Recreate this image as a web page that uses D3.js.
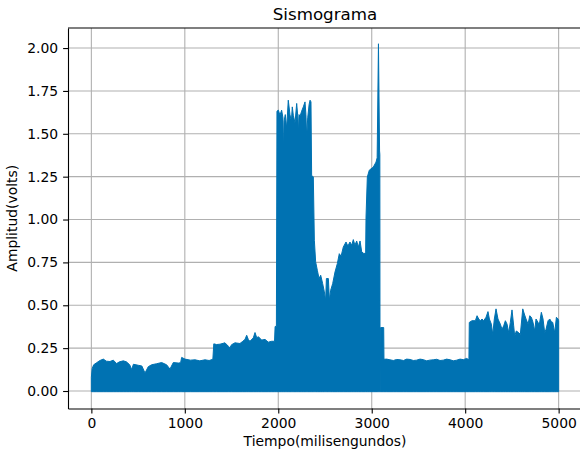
<!DOCTYPE html>
<html>
<head>
<meta charset="utf-8">
<script src="https://cdn.jsdelivr.net/npm/d3@7"></script>
<style>
  body { margin: 0; background: #fff; }
  svg { display: block; font-family: "DejaVu Sans", sans-serif; }
  .grid line { stroke: #b0b0b0; stroke-width: 1.1; }
  .axis path, .axis line { stroke: #000; stroke-width: 1.1; }
  .axis text { font-size: 13.9px; fill: #000; font-family: "DejaVu Sans", sans-serif; }
</style>
</head>
<body>
<script>
var tiempo = [
  0, 8, 25, 56, 92, 128, 160, 199, 235, 270, 300, 342, 375, 410, 431, 450, 502, 540, 574, 609,
  645, 698, 752, 805, 841, 877, 930, 955, 966, 1002, 1060, 1109, 1160, 1216, 1260, 1300,
  1310, 1340, 1376, 1430, 1466, 1483, 1500, 1537, 1590, 1620, 1644, 1662, 1680, 1697, 1733, 1751,
  1770, 1787, 1822, 1858, 1893, 1929, 1960, 1966, 1980,
  1986, 2001, 2018, 2036, 2050, 2056, 2062, 2075, 2090, 2107, 2125, 2140, 2150, 2161, 2179, 2197,
  2210, 2215, 2222, 2233, 2250, 2268, 2286, 2296, 2304, 2315, 2330, 2340, 2350, 2357, 2375, 2386,
  2400, 2418, 2436, 2454, 2475, 2493, 2507, 2515, 2536, 2547, 2561, 2582, 2607, 2632, 2653, 2672,
  2696, 2725, 2745, 2767, 2786, 2803, 2820, 2839, 2857, 2875, 2893, 2917, 2935, 2939, 2953, 2974,
  3017, 3046, 3058, 3072, 3084, 3087, 3089, 3093, 3095, 3128, 3131,
  3160, 3195, 3231, 3267, 3303, 3340, 3374, 3410, 3445, 3480, 3517, 3550, 3588, 3620, 3659, 3695,
  3731, 3765, 3802, 3840, 3873, 3910, 3945, 3980, 4016, 4040,
  4044, 4073, 4109, 4127, 4145, 4162, 4180, 4198, 4223, 4244, 4259, 4280, 4295, 4312, 4330, 4351,
  4376, 4394, 4412, 4430, 4448, 4466, 4483, 4501, 4519, 4530, 4547, 4573, 4590, 4616, 4633, 4651,
  4673, 4691, 4708, 4726, 4744, 4758, 4780, 4794, 4815, 4833, 4851, 4865, 4887, 4905, 4922, 4937,
  4958, 4976, 4994, 5000
];
var amplitudMax = [
  0.08, 0.13, 0.153, 0.165, 0.178, 0.186, 0.174, 0.172, 0.18, 0.16, 0.17, 0.176, 0.17, 0.153, 0.125, 0.156, 0.15, 0.146, 0.105, 0.142,
  0.153, 0.159, 0.166, 0.153, 0.128, 0.166, 0.163, 0.165, 0.196, 0.186, 0.18, 0.182, 0.176, 0.182, 0.178, 0.185,
  0.275, 0.271, 0.273, 0.281, 0.261, 0.252, 0.27, 0.281, 0.277, 0.29, 0.301, 0.325, 0.3, 0.29, 0.31, 0.341,
  0.31, 0.317, 0.297, 0.301, 0.285, 0.29, 0.29, 0.376, 0.378,
  1.632, 1.638, 1.608, 1.638, 1.593, 1.405, 1.573, 1.612, 1.533, 1.696, 1.612, 1.573, 1.657, 1.608, 1.563, 1.677,
  1.593, 1.501, 1.612, 1.602, 1.632, 1.657, 1.686, 1.612, 1.481, 1.593, 1.671, 1.696, 1.686, 1.258, 1.248, 0.879,
  0.753, 0.704, 0.656, 0.675, 0.626, 0.578, 0.529, 0.656, 0.656, 0.529, 0.588, 0.626, 0.694, 0.743, 0.801, 0.786,
  0.840, 0.869, 0.845, 0.869, 0.850, 0.883, 0.850, 0.875, 0.840, 0.875, 0.811, 0.801, 0.806, 1.015, 1.248, 1.288,
  1.306, 1.335, 1.36, 2.025, 1.40, 1.38, 0.0, 0.0, 0.37, 0.37, 0.185,
  0.186, 0.182, 0.178, 0.184, 0.182, 0.178, 0.186, 0.184, 0.178, 0.18, 0.186, 0.183, 0.176, 0.18, 0.182, 0.185,
  0.178, 0.18, 0.186, 0.182, 0.176, 0.18, 0.186, 0.183, 0.19, 0.182,
  0.40, 0.41, 0.41, 0.439, 0.42, 0.41, 0.42, 0.41, 0.43, 0.463, 0.42, 0.39, 0.33, 0.42, 0.479, 0.42,
  0.39, 0.36, 0.38, 0.41, 0.39, 0.34, 0.40, 0.473, 0.38, 0.32, 0.35, 0.34, 0.33, 0.479, 0.449, 0.42,
  0.39, 0.439, 0.43, 0.40, 0.35, 0.42, 0.40, 0.39, 0.459, 0.42, 0.34, 0.36, 0.41, 0.42, 0.404, 0.40,
  0.34, 0.43, 0.42, 0.41
];
var pisoSenal = -0.004;   // la senal baja casi hasta cero en todo momento

var ticksX = [0, 1000, 2000, 3000, 4000, 5000];
var ticksY = [0, 0.25, 0.5, 0.75, 1.0, 1.25, 1.5, 1.75, 2.0];

var width = 580,
    height = 454;

// limites del area de ejes (el borde derecho queda fuera del lienzo, como en la imagen)
var izq = 68, der = 582, arriba = 28, abajo = 408.5;

var x = d3.scaleLinear().domain([-250, 5250]).range([izq, der]);
var y = d3.scaleLinear().domain([-0.102, 2.117]).range([abajo, arriba]);

var svg = d3.select("body")
    .append("svg")
    .attr("width", width)
    .attr("height", height);

// rejilla por debajo de la senal
var grid = svg.append("g").attr("class", "grid");
grid.selectAll(".gx")
    .data(ticksX)
    .enter().append("line")
    .attr("x1", d => x(d)).attr("x2", d => x(d))
    .attr("y1", arriba).attr("y2", abajo);
grid.selectAll(".gy")
    .data(ticksY)
    .enter().append("line")
    .attr("x1", izq).attr("x2", der)
    .attr("y1", d => y(d)).attr("y2", d => y(d));

var datos = tiempo.map((t, i) => ({ t: t, a: amplitudMax[i] }));

var area = d3.area()
    .x(d => x(d.t))
    .y0(y(pisoSenal))
    .y1(d => y(d.a));

svg.append("path")
    .datum(datos)
    .attr("d", area)
    .attr("fill", "#0072b2")
    .attr("stroke", "#0072b2")
    .attr("stroke-width", 1)
    .attr("stroke-linejoin", "round");

// ejes
svg.append("g")
    .attr("class", "axis")
    .attr("transform", "translate(0," + abajo + ")")
    .call(d3.axisBottom(x).tickValues(ticksX).tickFormat(d3.format("d"))
        .tickSize(4.9).tickSizeOuter(0).tickPadding(4.9));

svg.append("g")
    .attr("class", "axis")
    .attr("transform", "translate(" + izq + ",0)")
    .call(d3.axisLeft(y).tickValues(ticksY).tickFormat(d3.format(".2f"))
        .tickSize(4.9).tickSizeOuter(0).tickPadding(4.9));

// borde superior
svg.append("line")
    .attr("x1", izq).attr("x2", der)
    .attr("y1", arriba).attr("y2", arriba)
    .attr("stroke", "#000").attr("stroke-width", 1.1);

svg.append("text")
    .attr("x", (izq + der) / 2)
    .attr("y", 20)
    .attr("text-anchor", "middle")
    .style("font-size", "16.7px")
    .text("Sismograma");

svg.append("text")
    .attr("x", (izq + der) / 2)
    .attr("y", 446)
    .attr("text-anchor", "middle")
    .style("font-size", "13.9px")
    .text("Tiempo(milisengundos)");

svg.append("text")
    .attr("transform", "translate(17," + ((arriba + abajo) / 2) + ") rotate(-90)")
    .attr("text-anchor", "middle")
    .style("font-size", "13.9px")
    .text("Amplitud(volts)");
</script>
</body>
</html>
